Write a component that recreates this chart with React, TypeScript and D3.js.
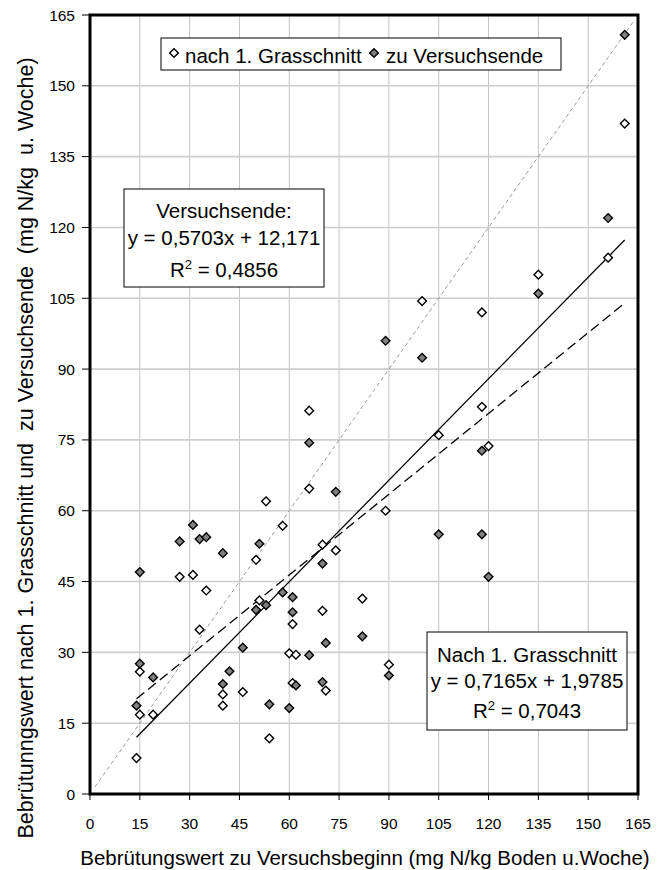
import React from "react";
import * as d3 from "d3";

// Incubation value at trial start (x) vs. after first grass cut (open diamonds)
const nachX = [14, 15, 19, 15, 27, 31, 33, 35, 40, 40, 46, 50, 51, 53, 54, 58, 60, 61, 61, 62, 66, 66, 70, 70, 71, 74, 82, 89, 90, 100, 105, 118, 118, 120, 135, 156, 161];
const nachY = [7.6, 16.8, 16.8, 25.9, 46, 46.4, 34.8, 43.1, 21.1, 18.7, 21.6, 49.6, 41, 62, 11.8, 56.8, 29.8, 36, 23.5, 29.5, 81.2, 64.7, 52.8, 38.8, 21.9, 51.6, 41.4, 60, 27.4, 104.4, 76, 102, 82, 73.7, 110, 113.6, 142];

// Incubation value at trial start (x) vs. at trial end (filled diamonds)
const endeX = [14, 15, 15, 19, 27, 31, 33, 35, 40, 40, 42, 46, 50, 51, 53, 54, 58, 60, 61, 61, 62, 66, 66, 70, 70, 71, 74, 82, 89, 90, 100, 105, 118, 118, 120, 135, 156, 161];
const endeY = [18.7, 27.6, 47, 24.7, 53.5, 57, 54, 54.4, 51, 23.3, 26, 31, 39, 53, 40, 19, 42.7, 18.2, 41.7, 38.5, 23, 74.4, 29.4, 48.8, 23.7, 32, 64, 33.4, 96, 25.1, 92.4, 55, 72.7, 55, 46, 106, 122, 160.8];

// Linear trend coefficients [slope, intercept] as printed in the boxes
const trendNach = [0.7165, 1.9785];
const trendEnde = [0.5703, 12.171];
const r2Nach = "0,7043";
const r2Ende = "0,4856";
const trendRange = [14, 161];
const identityRange = [1.5, 163.5];

const ticks = [0, 15, 30, 45, 60, 75, 90, 105, 120, 135, 150, 165];
const legendLabels = ["nach 1. Grasschnitt", "zu Versuchsende"];
const xTitle = "Bebrütungswert zu Versuchsbeginn (mg N/kg Boden u.Woche)";
const yTitle = "Bebrütunngswert nach 1. Grasschnitt und  zu Versuchsende  (mg N/kg  u. Woche)";

const W = 659;
const H = 870;
const L = 90, R = 638, T = 15, B = 794;
const FONT = "'Liberation Sans', Arial, Helvetica, sans-serif";

const fmt = (v: number) => String(v).replace(".", ",");

export default function App() {
  const x = d3.scaleLinear().domain([0, 165]).range([L, R]);
  const y = d3.scaleLinear().domain([0, 165]).range([B, T]);
  const diamond = d3.symbol(d3.symbolSquare, 38)() as string;

  const line = d3
    .line<number>()
    .x((d) => x(d))
    .y((d) => y(d));

  const trend = (c: number[]) =>
    d3
      .line<number>()
      .x((d) => x(d))
      .y((d) => y(c[0] * d + c[1]))(trendRange) as string;

  const mark = (px: number, py: number, fill: string, key: string) => (
    <path
      key={key}
      d={diamond}
      transform={`translate(${px},${py}) rotate(45)`}
      fill={fill}
      stroke="#000"
      strokeWidth={1.4}
    />
  );

  const grid = ticks.slice(1, -1);

  return (
    <svg
      width={W}
      height={H}
      style={{ position: "absolute", left: 0, top: 0, background: "#fff" }}
      fontFamily={FONT}
    >
      <rect x={0} y={0} width={W} height={H} fill="#fff" />
      {/* gridlines */}
      {grid.map((t) => (
        <line key={"gx" + t} x1={x(t)} x2={x(t)} y1={T} y2={B} stroke="#c4c4c4" strokeWidth={1} />
      ))}
      {grid.map((t) => (
        <line key={"gy" + t} x1={L} x2={R} y1={y(t)} y2={y(t)} stroke="#cdcdcd" strokeWidth={1.6} />
      ))}

      {/* 1:1 reference line */}
      <path d={line(identityRange) as string} stroke="#9a9a9a" strokeWidth={1} strokeDasharray="4,3" fill="none" />

      {/* trend lines */}
      <path d={trend(trendNach)} stroke="#000" strokeWidth={1.3} fill="none" />
      <path d={trend(trendEnde)} stroke="#000" strokeWidth={1.3} strokeDasharray="10,5" fill="none" />

      {/* points */}
      {nachX.map((v, i) => mark(x(v), y(nachY[i]), "#fff", "n" + i))}
      {endeX.map((v, i) => mark(x(v), y(endeY[i]), "#808080", "e" + i))}

      {/* frame */}
      <rect x={L} y={T} width={R - L} height={B - T} fill="none" stroke="#000" strokeWidth={3} />

      {/* y axis ticks and labels */}
      {ticks.map((t) => (
        <g key={"yt" + t}>
          <line x1={L - 8} x2={L} y1={y(t)} y2={y(t)} stroke="#000" strokeWidth={1} />
          <text x={75} y={y(t)} dy="0.36em" textAnchor="end" fontSize={15.5}>
            {t}
          </text>
        </g>
      ))}
      {/* x axis ticks and labels */}
      {ticks.map((t) => (
        <g key={"xt" + t}>
          <line x1={x(t)} x2={x(t)} y1={B} y2={B + 6} stroke="#000" strokeWidth={1} />
          <text x={x(t)} y={829} textAnchor="middle" fontSize={15.5}>
            {t}
          </text>
        </g>
      ))}

      {/* axis titles */}
      <text x={365} y={865} textAnchor="middle" fontSize={20.5}>
        {xTitle}
      </text>
      <text
        transform={`translate(33,448) rotate(-90)`}
        textAnchor="middle"
        fontSize={21.5}
        style={{ whiteSpace: "pre" }}
      >
        {yTitle}
      </text>

      {/* legend */}
      <rect x={161} y={38} width={400} height={32} fill="#fff" stroke="#000" strokeWidth={1} />
      {mark(174, 53, "#fff", "lg0")}
      <text x={185} y={63} fontSize={20.5}>
        {legendLabels[0]}
      </text>
      {mark(374, 53, "#808080", "lg1")}
      <text x={386} y={63} fontSize={20.5}>
        {legendLabels[1]}
      </text>

      {/* equation box: trial end */}
      <rect x={124} y={189} width={200} height={98} fill="#fff" stroke="#000" strokeWidth={1} />
      <g textAnchor="middle" fontSize={20.5}>
        <text x={224} y={218}>Versuchsende:</text>
        <text x={224} y={245}>{`y = ${fmt(trendEnde[0])}x + ${fmt(trendEnde[1])}`}</text>
        <text x={224} y={277}>
          R<tspan dy={-8} fontSize={13}>2</tspan>
          <tspan dy={8}>{` = ${r2Ende}`}</tspan>
        </text>
      </g>

      {/* equation box: after first cut */}
      <rect x={427} y={632} width={200} height={98} fill="#fff" stroke="#000" strokeWidth={1} />
      <g textAnchor="middle" fontSize={20.5}>
        <text x={527} y={662}>Nach 1. Grasschnitt</text>
        <text x={527} y={688}>{`y = ${fmt(trendNach[0])}x + ${fmt(trendNach[1])}`}</text>
        <text x={527} y={718}>
          R<tspan dy={-8} fontSize={13}>2</tspan>
          <tspan dy={8}>{` = ${r2Nach}`}</tspan>
        </text>
      </g>
    </svg>
  );
}
